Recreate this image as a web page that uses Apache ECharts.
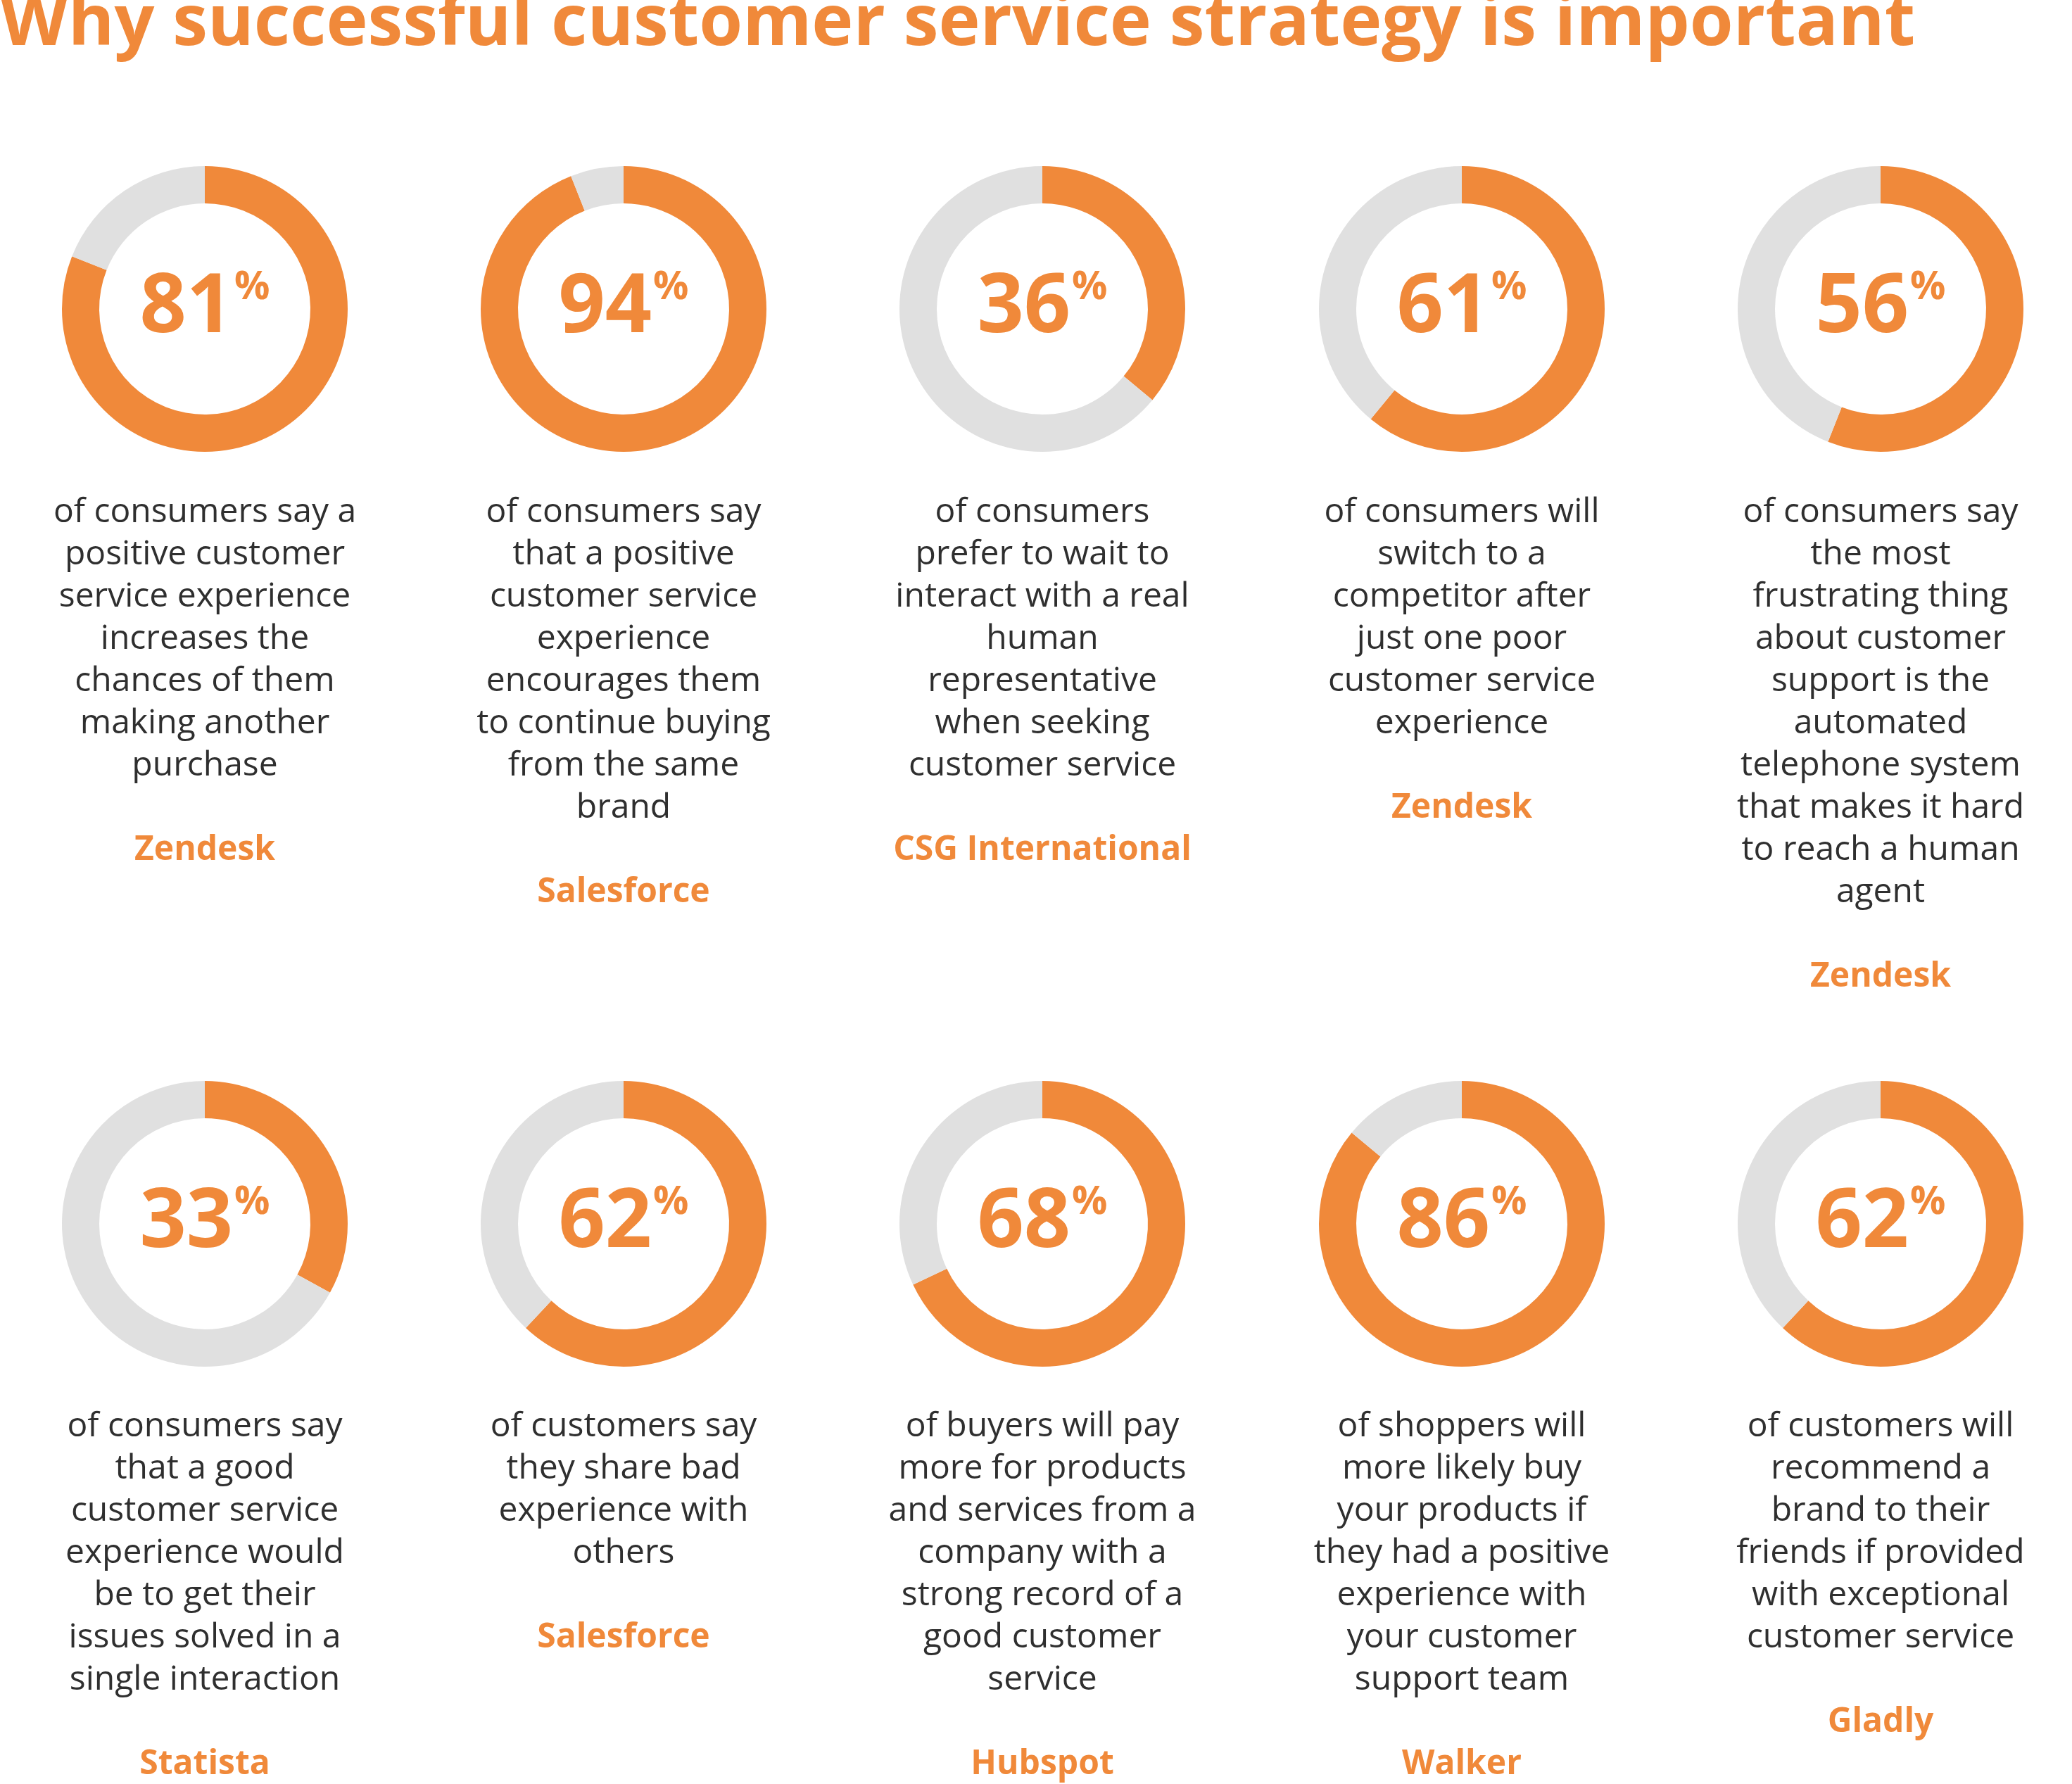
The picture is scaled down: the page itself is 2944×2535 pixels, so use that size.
<!DOCTYPE html>
<html><head><meta charset="utf-8">
<script src="https://cdn.jsdelivr.net/npm/echarts@6/dist/echarts.min.js"></script>
<style>html,body{margin:0;padding:0;background:#fff}#c{width:2944px;height:2535px}</style>
</head><body><div id="c"></div>
<script>
const title = "Why successful customer service strategy is important";
const percents = [81, 94, 36, 61, 56, 33, 62, 68, 86, 62];
const descriptions = [
"of consumers say a\npositive customer\nservice experience\nincreases the\nchances of them\nmaking another\npurchase",
"of consumers say\nthat a positive\ncustomer service\nexperience\nencourages them\nto continue buying\nfrom the same\nbrand",
"of consumers\nprefer to wait to\ninteract with a real\nhuman\nrepresentative\nwhen seeking\ncustomer service",
"of consumers will\nswitch to a\ncompetitor after\njust one poor\ncustomer service\nexperience",
"of consumers say\nthe most\nfrustrating thing\nabout customer\nsupport is the\nautomated\ntelephone system\nthat makes it hard\nto reach a human\nagent",
"of consumers say\nthat a good\ncustomer service\nexperience would\nbe to get their\nissues solved in a\nsingle interaction",
"of customers say\nthey share bad\nexperience with\nothers",
"of buyers will pay\nmore for products\nand services from a\ncompany with a\nstrong record of a\ngood customer\nservice",
"of shoppers will\nmore likely buy\nyour products if\nthey had a positive\nexperience with\nyour customer\nsupport team",
"of customers will\nrecommend a\nbrand to their\nfriends if provided\nwith exceptional\ncustomer service"
];
const sources = ["Zendesk","Salesforce","CSG International","Zendesk","Zendesk","Statista","Salesforce","Hubspot","Walker","Gladly"];

const ORANGE = '#F0893A', GREY = '#E0E0E0', TEXT = '#2f2f2f';
const colX = [291, 886, 1481, 2077, 2672];
const rowY = [439, 1739];
const descY = [698, 1997];
const series = [], graphic = [];
graphic.push({type:'text', left:0, top:-14, style:{text:title, font:'bold 100px "Open Sans"', fill:ORANGE}});
percents.forEach((p, i) => {
  const cx = colX[i % 5], cy = rowY[Math.floor(i / 5)];
  series.push({
    type:'pie', center:[cx, cy], radius:[150, 203], startAngle:90, clockwise:true,
    silent:true, animation:false, labelLine:{show:false},
    data:[
      {value:p, itemStyle:{color:ORANGE}, label:{show:true, position:'center',
        formatter:'{n|' + p + '}{p|%}',
        rich:{n:{fontFamily:'Open Sans', fontWeight:'bold', fontSize:116, color:ORANGE},
              p:{fontFamily:'Open Sans', fontWeight:'bold', fontSize:56, color:ORANGE, verticalAlign:'top', padding:[0,0,50,2]}}}},
      {value:100 - p, itemStyle:{color:GREY}, label:{show:false}}
    ]
  });
  graphic.push({type:'text', x:cx, y:descY[Math.floor(i / 5)], style:{
    text:descriptions[i] + '\n\n{s|' + sources[i] + '}',
    font:'48px "Open Sans"', fill:TEXT, align:'center', lineHeight:60,
    rich:{s:{fontFamily:'Open Sans', fontWeight:'bold', fontSize:48, fill:ORANGE, color:ORANGE, lineHeight:60}}
  }});
});
const chart = echarts.init(document.getElementById('c'));
chart.setOption({series, graphic});
</script></body></html>
